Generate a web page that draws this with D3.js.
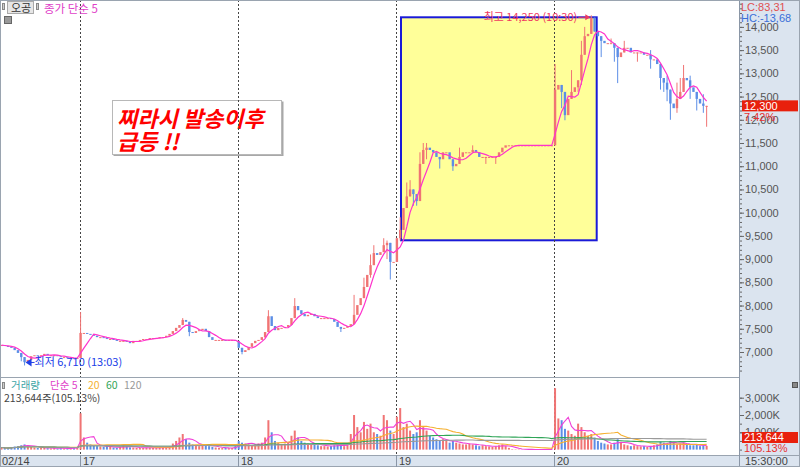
<!DOCTYPE html>
<html><head><meta charset="utf-8">
<script src="https://cdn.jsdelivr.net/npm/d3@7"></script>
<style>
body{margin:0;background:#fff;}
svg{display:block;font-family:"Noto Sans CJK KR","Noto Sans",sans-serif;}
</style>
</head><body>
<svg id="c" width="800" height="467"></svg>
<script>
// ---------- DATA ----------
const dayLabels = ["02/14", "17", "18", "19", "20"];
const dayStartIdx = [0, 24, 72, 120, 168];
const priceTicks = [7000, 7500, 8000, 8500, 9000, 9500, 10000, 10500, 11000, 11500, 12000, 12500, 13000, 13500, 14000];
const volTicks = [1000, 2000, 3000];   // thousands of shares
const volMAPeriods = [5, 20, 60, 120];

// closing prices per bar
const day14 = [7150, 7130, 7110, 7090, 7040, 6980, 6890, 6780, 6830, 6910, 6930, 6910, 6930, 6960, 6930, 6930, 6930, 6910, 6890, 6890, 6870, 6870, 6850, 6870];
const day17 = [7410, 7410, 7390, 7370, 7350, 7320, 7320, 7300, 7280, 7280, 7260, 7240, 7240, 7240, 7220, 7190, 7240, 7240, 7260, 7280, 7280, 7300, 7300, 7300, 7320, 7320, 7350, 7390, 7450, 7520, 7580, 7690, 7650, 7430, 7410, 7450, 7470, 7500, 7450, 7320, 7260, 7260, 7260, 7260, 7240, 7260, 7260, 7240];
const day18 = [7090, 7000, 7040, 7110, 7190, 7240, 7260, 7320, 7430, 7770, 7560, 7470, 7520, 7520, 7540, 7580, 7730, 7990, 7900, 7820, 7770, 7800, 7820, 7770, 7730, 7730, 7730, 7730, 7710, 7650, 7540, 7500, 7520, 7560, 7600, 7800, 8010, 8160, 8400, 8660, 8870, 9130, 9090, 9150, 9300, 9350, 8940, 8940];
const day19 = [9450, 9630, 10100, 10350, 10500, 10400, 10250, 11050, 11350, 11400, 11350, 11300, 11200, 11150, 11300, 11300, 11150, 11000, 11050, 11200, 11300, 11300, 11300, 11350, 11300, 11200, 11200, 11200, 11200, 11200, 11200, 11300, 11400, 11450, 11450, 11450, 11450, 11450, 11450, 11450, 11450, 11450, 11450, 11450, 11450, 11450, 11450, 11450];
const day20 = [12650, 12750, 12600, 12100, 12450, 12600, 12700, 12850, 13400, 13800, 13850, 14200, 13900, 13800, 13700, 13650, 13650, 13650, 13550, 13350, 13450, 13550, 13550, 13450, 13450, 13450, 13450, 13400, 13400, 13300, 13300, 13200, 12900, 12800, 12650, 12350, 12250, 12450, 12600, 12900, 12850, 12700, 12600, 12450, 12350, 12300, 12300];

// notable wicks (bar index, high, low)
const wickIdx = [6, 7, 24, 55, 57, 73, 80, 81, 89, 103,
  107, 110, 112, 113, 116, 117, 118, 120, 121, 122,
  123, 124, 125, 126, 127, 128, 129, 133, 137, 139,
  143, 147, 150, 168, 170, 171, 173, 175, 176, 177,
  179, 180, 182, 185, 186, 187, 189, 193, 197, 200,
  201, 202, 203, 205, 206, 207, 209, 211, 213, 214];
const wickHigh = [null, null, 7860, 7730, null, null, null, 7900, 8160, null,
  8230, 8600, 9100, 9300, 9450, 9400, null, null, 9900, null,
  10650, 10700, null, null, 11300, 11500, 11500, null, null, 11400,
  11450, null, null, 13200, null, null, 13070, null, 13700, 14000,
  14250, 14150, null, 13750, null, null, 13700, null, 13500, null,
  null, 12950, null, 12800, 12900, 13180, 12950, null, 12550, null];
const wickLow = [6800, 6710, null, null, 7340, 6950, 7300, null, null, 7430,
  null, 8200, 8600, null, null, 9000, 8560, 9350, 9400, 9800,
  null, null, 10150, 10150, 10300, null, 11150, 10950, 10900, null,
  null, 11050, 11050, null, 12250, 11990, null, 12600, 12750, null,
  null, null, 13350, null, 13250, 12790, null, 13250, 13100, 12650,
  12600, 12400, 12000, 12150, null, null, 12450, 12200, 12150, 11850];

// volume per bar (thousand shares)
const vol14 = [120, 90, 80, 150, 180, 200, 250, 300, 220, 150, 120, 100, 90, 110, 80, 70, 90, 60, 80, 70, 60, 90, 80, 150];
const vol17 = [2100, 700, 400, 300, 250, 200, 180, 150, 200, 150, 120, 100, 150, 250, 180, 130, 120, 100, 90, 100, 120, 110, 100, 90, 120, 130, 150, 200, 350, 500, 700, 900, 600, 400, 300, 250, 200, 300, 250, 200, 150, 120, 100, 90, 100, 80, 90, 200];
const vol18 = [500, 400, 350, 300, 250, 300, 350, 400, 700, 1700, 1000, 500, 400, 300, 350, 400, 800, 1100, 700, 500, 400, 350, 300, 300, 250, 200, 200, 180, 200, 250, 300, 250, 200, 300, 900, 2000, 1300, 1000, 1600, 1200, 1500, 1000, 900, 800, 2000, 1700, 1100, 900];
const vol19 = [1900, 2400, 1300, 1500, 1100, 900, 1000, 1700, 1300, 1100, 800, 700, 600, 500, 600, 500, 400, 500, 400, 350, 300, 300, 350, 300, 250, 200, 250, 200, 180, 150, 200, 250, 300, 200, 100, 30, 20, 20, 10, 10, 10, 10, 10, 10, 10, 10, 10, 10];
const vol20 = [3550, 1800, 1700, 1200, 1100, 900, 800, 1500, 1300, 1000, 800, 900, 700, 500, 400, 350, 300, 300, 400, 600, 450, 300, 250, 200, 250, 200, 180, 200, 150, 200, 250, 300, 450, 400, 350, 500, 400, 300, 350, 400, 300, 250, 250, 300, 200, 250, 214];

const maxIdx = 179, maxPrice = 14250, maxTime = "10:30";
const minIdx = 7, minPrice = 6710, minTime = "13:03";
const lastPrice = 12300, lastPct = "7.42%";
const lastVol = "213,644", lastVolPct = "105.13%";

// ---------- SETUP ----------
const closes = d3.merge([day14, day17, day18, day19, day20]);
const vols = d3.merge([vol14, vol17, vol18, vol19, vol20]);
const opens = closes.map((c, i) => i ? closes[i - 1] : c);
const N = closes.length;

const svg = d3.select("#c");
const plotR = 739, priceBot = 377, volTop = 378, volBot = 455;
const x = d3.scaleLinear().domain([0, N - 1]).range([1.5, 1.5 + (N - 1) * 3.295]);
const yP = d3.scaleLinear().domain([7000, 14000]).range([352, 26.9]);
const yV = d3.scaleLinear().domain([0, 3000]).range([449.6, 397.7]);
const fmt = d3.format(",");
const upC = "#f07474", dnC = "#5c8ee6";
const axisFont = "'Liberation Sans',Arial,sans-serif";

function sma(arr, n) {
  return arr.map((v, i) => d3.mean(arr.slice(Math.max(0, i - n + 1), i + 1)));
}

// backgrounds
svg.append("rect").attr("width", 800).attr("height", 467).attr("fill", "#fff");
svg.append("rect").attr("x", plotR).attr("y", 0).attr("width", 800 - plotR).attr("height", 467).attr("fill", "#dbe4ef");
svg.append("rect").attr("x", 0).attr("y", volBot).attr("width", 800).attr("height", 467 - volBot).attr("fill", "#dbe4ef");

const defs = svg.append("defs");
defs.append("clipPath").attr("id", "cp").append("rect").attr("x", 0).attr("y", 0).attr("width", plotR).attr("height", priceBot);
defs.append("clipPath").attr("id", "cv").append("rect").attr("x", 0).attr("y", volTop).attr("width", plotR).attr("height", volBot - volTop);

// yellow highlight box (behind)
svg.append("rect").attr("x", 401).attr("y", 17.3).attr("width", 195.7).attr("height", 223)
  .attr("fill", "#ffff99").attr("stroke", "#1a1ad8").attr("stroke-width", 2);

// annotation box
svg.append("rect").attr("x", 113.5).attr("y", 101.5).attr("width", 170).attr("height", 54.5).attr("fill", "#a8a8a8");
svg.append("rect").attr("x", 112.5).attr("y", 100.5).attr("width", 169).attr("height", 54)
  .attr("fill", "#fff").attr("stroke", "#b8b8b8");
const ann = svg.append("g").attr("fill", "#ff0000").attr("font-weight", "bold").attr("font-style", "italic")
  .attr("font-size", 22).attr("font-family", "'Noto Sans CJK KR',sans-serif");
ann.append("text").attr("x", 117).attr("y", 127).text("찌라시 발송이후");
ann.append("text").attr("x", 117).attr("y", 150).text("급등 !!");

// day separators
svg.append("g").selectAll("line").data(dayStartIdx.slice(1)).join("line")
  .attr("x1", d => Math.round(x(d)) - 0.5).attr("x2", d => Math.round(x(d)) - 0.5)
  .attr("y1", 0).attr("y2", volBot)
  .attr("stroke", "#444").attr("stroke-dasharray", "2,2");

// ---------- PRICE ----------
const gP = svg.append("g").attr("clip-path", "url(#cp)");
const wicks = wickIdx.map((i, k) => {
  const top = Math.max(opens[i], closes[i]), bot = Math.min(opens[i], closes[i]);
  return {i, hi: Math.max(top, wickHigh[k] ?? top), lo: Math.min(bot, wickLow[k] ?? bot)};
});
gP.append("g").selectAll("line").data(wicks).join("line")
  .attr("x1", d => x(d.i)).attr("x2", d => x(d.i))
  .attr("y1", d => yP(d.hi)).attr("y2", d => yP(d.lo))
  .attr("stroke", d => closes[d.i] >= opens[d.i] ? upC : dnC).attr("stroke-width", 1);
gP.append("g").selectAll("rect").data(d3.range(N)).join("rect")
  .attr("x", i => x(i) - 1.2).attr("width", 2.4)
  .attr("y", i => yP(Math.max(opens[i], closes[i])))
  .attr("height", i => Math.max(1, Math.abs(yP(opens[i]) - yP(closes[i]))))
  .attr("fill", i => closes[i] >= opens[i] ? upC : dnC);
const ma5 = sma(closes, 5);
gP.append("path").datum(d3.range(N))
  .attr("d", d3.line().x(i => x(i)).y(i => yP(ma5[i])))
  .attr("fill", "none").attr("stroke", "#ff33cc").attr("stroke-width", 1.2);

// max label
const yMax = yP(maxPrice) + 2;
svg.append("text").attr("x", x(maxIdx) - 14).attr("y", yMax).attr("dy", "0.35em").attr("text-anchor", "end")
  .attr("font-size", 11).attr("fill", "#f03a60").text(`최고 ${fmt(maxPrice)} (${maxTime})`);
svg.append("line").attr("x1", x(maxIdx) - 13).attr("x2", x(maxIdx) - 3).attr("y1", yMax).attr("y2", yMax).attr("stroke", "#f03a60");
svg.append("path").attr("d", `M${x(maxIdx) - 1},${yMax} l-5,-3 v6 z`).attr("fill", "#f03a60");

// min label
const yMin = yP(minPrice) - 3;
svg.append("path").attr("d", `M${x(minIdx) + 1},${yMin} l6,-4 v8 z`).attr("fill", "#2040e8");
svg.append("line").attr("x1", x(minIdx) + 6).attr("x2", x(minIdx) + 10).attr("y1", yMin).attr("y2", yMin).attr("stroke", "#2040e8");
svg.append("text").attr("x", x(minIdx) + 10).attr("y", yMin).attr("dy", "0.35em")
  .attr("font-size", 11).attr("fill", "#2040e8").text(`최저 ${fmt(minPrice)} (${minTime})`);

// ---------- VOLUME ----------
const gV = svg.append("g").attr("clip-path", "url(#cv)");
gV.append("g").selectAll("rect").data(d3.range(N)).join("rect")
  .attr("x", i => x(i) - 1).attr("width", 2)
  .attr("y", i => yV(vols[i])).attr("height", i => yV(0) - yV(vols[i]))
  .attr("fill", i => closes[i] >= opens[i] ? upC : dnC);
const volMAColors = ["#f040d8", "#f5b030", "#30a558", "#9a9a9a"];
volMAPeriods.forEach((p, k) => {
  const m = sma(vols, p);
  gV.append("path").datum(d3.range(N))
    .attr("d", d3.line().x(i => x(i)).y(i => yV(m[i])))
    .attr("fill", "none").attr("stroke", volMAColors[k]).attr("stroke-width", 1.1);
});

// ---------- FRAME ----------
svg.append("line").attr("x1", 0).attr("x2", plotR).attr("y1", priceBot + 0.5).attr("y2", priceBot + 0.5).attr("stroke", "#9aa4b0");
svg.append("line").attr("x1", 0).attr("x2", 800).attr("y1", volBot + 0.5).attr("y2", volBot + 0.5).attr("stroke", "#9aa4b0");
svg.append("line").attr("x1", plotR + 0.5).attr("x2", plotR + 0.5).attr("y1", 0).attr("y2", 467).attr("stroke", "#8a96a6");
svg.append("rect").attr("x", 0.5).attr("y", 0.5).attr("width", 799).attr("height", 466).attr("fill", "none").attr("stroke", "#9aa4b0");

// price axis
const minorP = d3.range(6600, 14600, 100);
const gPA = svg.append("g").attr("transform", `translate(${plotR + 1},0)`);
gPA.append("g").call(d3.axisRight(yP).tickValues(minorP).tickSize(2).tickFormat(""));
gPA.append("g").call(d3.axisRight(yP).tickValues(priceTicks).tickSize(4).tickPadding(1).tickFormat(fmt));
gPA.selectAll(".domain").remove();
gPA.selectAll("line").attr("stroke", "#666");
gPA.selectAll("text").attr("font-size", 11).attr("fill", "#555").attr("font-family", axisFont);

// volume axis
const gVA = svg.append("g").attr("transform", `translate(${plotR + 1},0)`);
gVA.append("g").call(d3.axisRight(yV).tickValues(d3.range(0, 3500, 500)).tickSize(2).tickFormat(""));
gVA.append("g").call(d3.axisRight(yV).tickValues(volTicks).tickSize(4).tickPadding(1).tickFormat(d => fmt(d) + "K"));
gVA.selectAll(".domain").remove();
gVA.selectAll("line").attr("stroke", "#666");
gVA.selectAll("text").attr("font-size", 11).attr("fill", "#555").attr("font-family", axisFont);

// last price box
const yl = yP(lastPrice);
svg.append("rect").attr("x", 742).attr("y", yl - 5.5).attr("width", 56).attr("height", 11).attr("fill", "#e8200c");
svg.append("text").attr("x", 744).attr("y", yl).attr("dy", "0.36em").attr("font-size", 11).attr("fill", "#fff")
  .attr("font-family", axisFont).text(fmt(lastPrice));
svg.append("text").attr("x", 744).attr("y", yl + 11).attr("dy", "0.36em").attr("font-size", 11).attr("fill", "#e83030")
  .attr("font-family", axisFont).text(lastPct);

// last volume box
svg.append("rect").attr("x", 742).attr("y", 432).attr("width", 56).attr("height", 11).attr("fill", "#e8200c");
svg.append("text").attr("x", 744).attr("y", 437.5).attr("dy", "0.36em").attr("font-size", 11).attr("fill", "#fff")
  .attr("font-family", axisFont).text(lastVol);
svg.append("text").attr("x", 744).attr("y", 448.5).attr("dy", "0.36em").attr("font-size", 11).attr("fill", "#e83030")
  .attr("font-family", axisFont).text(lastVolPct);
svg.append("rect").attr("x", 792.5).attr("y", 382.5).attr("width", 5).attr("height", 5).attr("fill", "#888").attr("stroke", "#555");

// LC / HC
svg.append("text").attr("x", 741).attr("y", 7).attr("dy", "0.36em").attr("font-size", 11).attr("fill", "#e05050")
  .attr("font-family", axisFont).text("LC:83,31");
svg.append("text").attr("x", 741).attr("y", 18).attr("dy", "0.36em").attr("font-size", 11).attr("fill", "#3a6fd8")
  .attr("font-family", axisFont).text("HC:-13,68");

// time axis
const gT = svg.append("g");
gT.selectAll("line").data(dayStartIdx.slice(1)).join("line")
  .attr("x1", d => Math.round(x(d)) - 0.5).attr("x2", d => Math.round(x(d)) - 0.5)
  .attr("y1", volBot).attr("y2", 467).attr("stroke", "#8a96a6");
gT.selectAll("text").data(dayStartIdx).join("text")
  .attr("x", (d, i) => i ? Math.round(x(d)) + 2 : 2).attr("y", 461).attr("dy", "0.36em")
  .attr("font-size", 11).attr("fill", "#444").attr("font-family", axisFont)
  .text((d, i) => dayLabels[i]);
svg.append("text").attr("x", 745).attr("y", 461).attr("dy", "0.36em").attr("font-size", 11).attr("fill", "#444")
  .attr("font-family", axisFont).text("15:30:00");

// top-left legend
svg.append("rect").attr("x", 2.5).attr("y", 3.5).attr("width", 2).attr("height", 6).attr("fill", "#ccc").attr("stroke", "#888");
svg.append("rect").attr("x", 7.5).attr("y", 1.5).attr("width", 26).attr("height", 12).attr("fill", "#e6e6e6").attr("stroke", "#aaa");
svg.append("text").attr("x", 11).attr("y", 11.5).attr("font-size", 11).attr("fill", "#333").text("오공");
svg.append("rect").attr("x", 36.5).attr("y", 3.5).attr("width", 2).attr("height", 6).attr("fill", "#ccc").attr("stroke", "#888");
svg.append("text").attr("x", 44).attr("y", 13).attr("font-size", 11.5).attr("fill", "#e040c8").text("종가 단순 5");
svg.append("rect").attr("x", 4.5).attr("y", 16.5).attr("width", 7).attr("height", 7).attr("fill", "#999").attr("stroke", "#666");

// volume legend
svg.append("rect").attr("x", 2.5).attr("y", 382.5).attr("width", 2).attr("height", 6).attr("fill", "#ccc").attr("stroke", "#888");
const legItems = [["거래량", "#3aa5a5", 11], ["단순 5", "#e040c8", 50], ["20", "#f5b030", 88], ["60", "#30a558", 106], ["120", "#999", 124]];
svg.append("g").selectAll("text").data(legItems).join("text")
  .attr("x", d => d[2]).attr("y", 388.5).attr("font-size", 10.5).attr("fill", d => d[1]).text(d => d[0]);
svg.append("text").attr("x", 4).attr("y", 402).attr("font-size", 10.5).attr("fill", "#444").text(`${lastVol}주(${lastVolPct})`);
</script>
</body></html>
